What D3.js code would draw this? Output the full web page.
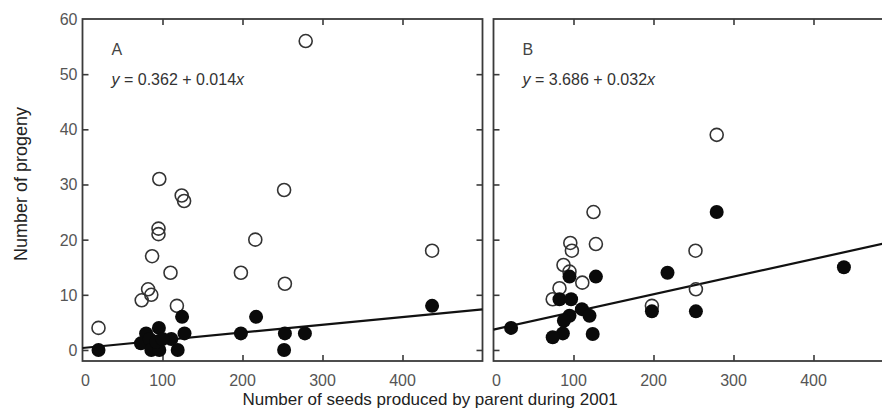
<!DOCTYPE html>
<html><head><meta charset="utf-8">
<script src="https://cdn.jsdelivr.net/npm/d3@7"></script>
<style>body{margin:0;background:#fff}svg{display:block;font-family:"Liberation Sans",Arial,Helvetica,sans-serif}</style>
</head><body><svg id="c" width="882" height="417"></svg>
<script>
const xTicks = [0,100,200,300,400,500];
const xTickLabels = ["0","100","200","300","400"];
const yTicks = [0,10,20,30,40,50,60];

const aOpen = [[20,4],[279,56],[96,31],[124,28],[127,27],[252,29],[95,22],[95,21],[216,20],[87,17],[110,14],[198,14],[437,18],[253,12],[82,11],[86,10],[74,9],[118,8]];
const aFilled = [[20,0],[437,8],[124.5,6],[217,6],[198,3],[127.5,3],[253,3],[278,3],[252,0],[119,0],[111,2],[95.5,4],[79.5,3],[73,1.2],[84,2],[86,0],[96,0],[92,1.5],[100,2]];
const bOpen = [[279,39],[125,25],[128,19.2],[96,19.4],[98,18],[252.5,18],[87.5,15.4],[95,14.2],[111,12.2],[82.5,11.2],[253,11],[74,9.2],[198,8]];
const bFilled = [[279,25],[438,15],[217.5,14],[128,13.3],[95,13.3],[82.5,9.2],[97,9.2],[198,7],[253,7],[110.5,7.4],[120,6.2],[95,6.2],[88,5.3],[124,2.9],[86.7,3],[74,2.3],[22,4]];
const fitA = [0.362, 0.014];
const fitB = [3.686, 0.032];
const eqA = ["y"," = 0.362 + 0.014","x"];
const eqB = ["y"," = 3.686 + 0.032","x"];

const svg = d3.select("#c");
const y = d3.scaleLinear().domain([-2,60]).range([361,19]);
const axisCol = "#3a3a3a", tickTextCol = "#555";

function panel(x0, data, label, fit, eq, showY) {
  const x = d3.scaleLinear().domain([0,500]).range([x0, x0+400]);
  const g = svg.append("g");
  // frame
  g.append("rect").attr("x",x0).attr("y",19).attr("width",400).attr("height",342)
    .attr("fill","none").attr("stroke",axisCol).attr("stroke-width",1.8);
  // ticks
  const axB = d3.axisBottom(x).tickValues(xTicks.slice(1,-1)).tickSize(-6).tickFormat("");
  g.append("g").attr("transform","translate(0,361)").call(axB);
  const axT = d3.axisTop(x).tickValues(xTicks.slice(1,-1)).tickSize(-6).tickFormat("");
  g.append("g").attr("transform","translate(0,19)").call(axT);
  const axL = d3.axisLeft(y).tickValues(yTicks.slice(0,-1)).tickSize(-6).tickFormat("");
  g.append("g").attr("transform",`translate(${x0},0)`).call(axL);
  const axR = d3.axisRight(y).tickValues(yTicks.slice(0,-1)).tickSize(-6).tickFormat("");
  g.append("g").attr("transform",`translate(${x0+400},0)`).call(axR);
  g.selectAll(".domain").remove();
  g.selectAll(".tick line").attr("stroke",axisCol).attr("stroke-width",1.6);
  if (showY) {
    g.selectAll(".ylab").data(yTicks).enter().append("text")
      .attr("x",x0-5).attr("y",d=>y(d)+6).attr("text-anchor","end")
      .attr("font-size",16).attr("fill",tickTextCol).text(d=>d);
  }
  g.selectAll(".xlab").data(xTickLabels).enter().append("text")
    .attr("x",d=>x(+d)+ (d==="0"?3:0)).attr("y",386).attr("text-anchor","middle")
    .attr("font-size",16).attr("fill",tickTextCol).text(d=>d);
  // fit line
  g.append("line").attr("x1",x(0)).attr("y1",y(fit[0])).attr("x2",x(500)).attr("y2",y(fit[0]+fit[1]*500))
    .attr("stroke","#111").attr("stroke-width",2.2);
  // points
  g.selectAll(".op").data(data.open).enter().append("circle")
    .attr("cx",d=>x(d[0])).attr("cy",d=>y(d[1])).attr("r",6.5)
    .attr("fill","none").attr("stroke","#333").attr("stroke-width",1.6);
  g.selectAll(".fp").data(data.filled).enter().append("circle")
    .attr("cx",d=>x(d[0])).attr("cy",d=>y(d[1])).attr("r",7)
    .attr("fill","#0a0a0a");
  // label & equation
  g.append("text").attr("x",x0+29).attr("y",55).attr("font-size",16).attr("fill","#444").text(label);
  const t = g.append("text").attr("x",x0+29).attr("y",85).attr("font-size",16).attr("fill","#333");
  t.append("tspan").attr("font-style","italic").text(eq[0]);
  t.append("tspan").text(eq[1]);
  t.append("tspan").attr("font-style","italic").text(eq[2]);
}

panel(82.5, {open:aOpen, filled:aFilled}, "A", fitA, eqA, true);
panel(493.5, {open:bOpen, filled:bFilled}, "B", fitB, eqB, false);

svg.append("text").attr("x",430).attr("y",405).attr("text-anchor","middle")
  .attr("font-size",17).attr("fill","#222").text("Number of seeds produced by parent during 2001");
svg.append("text").attr("transform","translate(27,184) rotate(-90)").attr("text-anchor","middle")
  .attr("font-size",18).attr("fill","#222").text("Number of progeny");
</script></body></html>
